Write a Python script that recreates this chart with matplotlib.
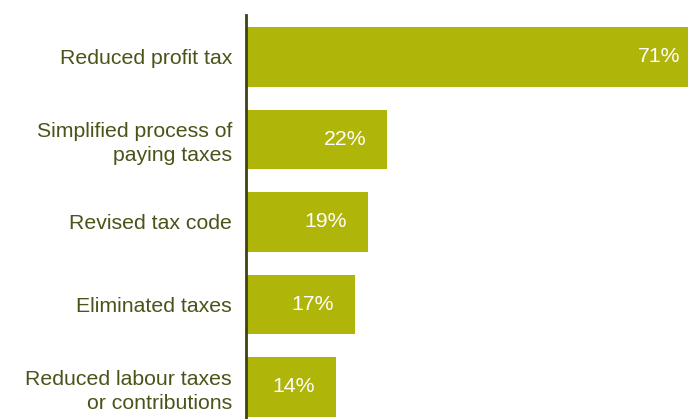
import matplotlib
matplotlib.use("Agg")
import matplotlib.pyplot as plt

categories = ["Reduced profit tax", "Simplified process of\npaying taxes", "Revised tax code",
              "Eliminated taxes", "Reduced labour taxes\nor contributions"]
values = [71, 22, 19, 17, 14]
labels = ["71%", "22%", "19%", "17%", "14%"]

bar_color = "#B0B50A"
text_color = "#4A5418"
axis_color = "#3D4212"

plt.rcParams['font.family'] = ['Liberation Sans', 'DejaVu Sans']

fig = plt.figure(figsize=(6.88, 4.19), dpi=100)
ax = fig.add_axes([246/688, 0.0, 1 - 246/688, (419-15)/419])

y = list(range(len(categories)))
ax.barh(y, values, height=0.727, color=bar_color, zorder=2)
ax.set_xlim(0, 69.0)
ax.set_ylim(4.388, -0.509)

for yi, v, lab in zip(y, values, labels):
    ax.annotate(lab, xy=(v, yi), xytext=(-15, 0), textcoords="offset points",
                ha="right", va="center", color="white", fontsize=15.3,
                annotation_clip=False, clip_on=True)

ax.set_yticks(y)
ax.set_yticklabels(categories, fontsize=15.3, color=text_color, linespacing=1.32)
ax.tick_params(axis='y', length=0, pad=10)
ax.set_xticks([])
for s in ["top", "right", "bottom"]:
    ax.spines[s].set_visible(False)
ax.spines["left"].set_color(axis_color)
ax.spines["left"].set_linewidth(2)
ax.spines["left"].set_zorder(3)

fig.savefig("out.png", dpi=100)
